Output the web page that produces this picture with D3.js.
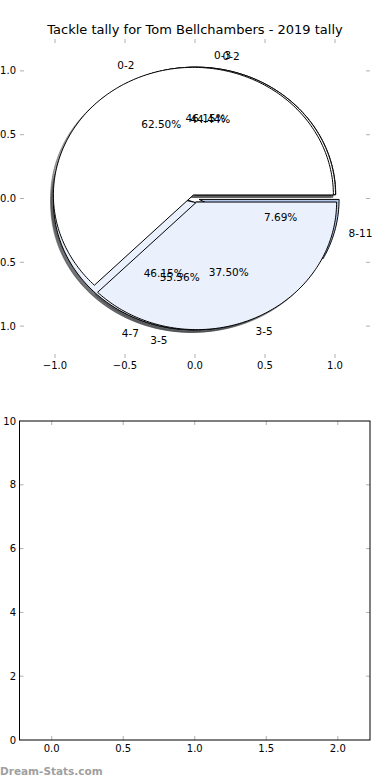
<!DOCTYPE html>
<html>
<head>
<meta charset="utf-8">
<script src="https://cdn.jsdelivr.net/npm/d3@7"></script>
<style>
  body { margin: 0; background: #fff; }
  text { font-family: "DejaVu Sans", sans-serif; fill: #000; }
</style>
</head>
<body>
<div id="chart"></div>
<script>
// chart values
var chartTitle = "Tackle tally for Tom Bellchambers - 2019 tally";
var rangesA = ["0-2", "3-5"];
var tallyA = [5, 3];
var rangesB = ["0-2", "3-5"];
var tallyB = [4, 5];
var rangesC = ["0-3", "4-7", "8-11"];
var tallyC = [6, 6, 1];
var wedgeColors = ["#ffffff", "#eaf0fc", "#b4c8ec"];
var pieTicks = [-1.0, -0.5, 0.0, 0.5, 1.0];
var emptyXTicks = [0, 0.5, 1.0, 1.5, 2.0];
var emptyYTicks = [0, 2, 4, 6, 8, 10];

// pies drawn in this order, the last one ends up on top
var pies = [
  {labels: rangesB, values: tallyB},
  {labels: rangesC, values: tallyC},
  {labels: rangesA, values: tallyA}
];

var explode = 0.03, shadowOff = 0.02;
var W = 390, H = 780;

var svg = d3.select("#chart").append("svg")
    .attr("width", W)
    .attr("height", H);

svg.append("text")
    .attr("x", 195).attr("y", 34)
    .attr("text-anchor", "middle")
    .style("font-size", "13px")
    .text(chartTitle);

// ---- pie axes ----
var xP = d3.scaleLinear().domain([-1.25, 1.25]).range([20, 370]);
var yP = d3.scaleLinear().domain([-1.25, 1.25]).range([358, 39]);

var fmt1 = function(d) { return d3.format(".1f")(d).replace("-", "\u2212"); };

function grayTicks(g, xs, ys, xsc, ysc, x0, x1, y0, y1) {
  xs.forEach(function(t) {
    g.append("line").attr("x1", xsc(t)).attr("x2", xsc(t)).attr("y1", y0).attr("y2", y0 + 4);
    g.append("line").attr("x1", xsc(t)).attr("x2", xsc(t)).attr("y1", y1).attr("y2", y1 - 4);
  });
  ys.forEach(function(t) {
    g.append("line").attr("y1", ysc(t)).attr("y2", ysc(t)).attr("x1", x0).attr("x2", x0 + 4);
    g.append("line").attr("y1", ysc(t)).attr("y2", ysc(t)).attr("x1", x1).attr("x2", x1 - 4);
  });
  g.selectAll("line").attr("stroke", "#b0b0b0").attr("stroke-width", 1);
}

grayTicks(svg.append("g"), pieTicks, pieTicks, xP, yP, 20, 370, 39, 358);

svg.append("g").selectAll("text").data(pieTicks).enter().append("text")
    .attr("x", function(d) { return xP(d); })
    .attr("y", 369)
    .attr("text-anchor", "middle")
    .style("font-size", "10px")
    .text(fmt1);

svg.append("g").selectAll("text").data(pieTicks).enter().append("text")
    .attr("x", 16)
    .attr("y", function(d) { return yP(d); })
    .attr("dy", "0.35em")
    .attr("text-anchor", "end")
    .style("font-size", "10px")
    .text(fmt1);

var shadowLayer = svg.append("g");
var wedgeLayer = svg.append("g");
var textLayer = svg.append("g");

var pieGen = d3.pie().sort(null).value(function(d) { return d; });

function wedgePath(a0, a1, ox, oy) {
  var pts = [[0, 0]];
  var n = Math.max(8, Math.ceil((a1 - a0) / 0.02));
  for (var i = 0; i <= n; i++) {
    var a = a0 + (a1 - a0) * i / n;
    pts.push([Math.cos(a), Math.sin(a)]);
  }
  return d3.line()
      .x(function(p) { return xP(p[0] + ox); })
      .y(function(p) { return yP(p[1] + oy); })(pts) + "Z";
}

function darker(c) {
  var r = d3.rgb(c);
  return "rgb(" + Math.round(r.r * 0.3) + "," + Math.round(r.g * 0.3) + "," + Math.round(r.b * 0.3) + ")";
}

pies.forEach(function(p) {
  var total = d3.sum(p.values);
  pieGen(p.values).forEach(function(s, i) {
    var mid = (s.startAngle + s.endAngle) / 2;
    var ex = explode * Math.cos(mid), ey = explode * Math.sin(mid);
    var col = wedgeColors[i % wedgeColors.length];

    shadowLayer.append("path")
        .attr("d", wedgePath(s.startAngle, s.endAngle, ex - shadowOff, ey - shadowOff))
        .attr("fill", darker(col))
        .attr("stroke", darker(col))
        .attr("fill-opacity", 0.5)
        .attr("stroke-opacity", 0.5);

    wedgeLayer.append("path")
        .attr("d", wedgePath(s.startAngle, s.endAngle, ex, ey))
        .attr("fill", col)
        .attr("stroke", "#000")
        .attr("stroke-width", 1)
        .attr("stroke-linejoin", "round");

    var lx = ex + 1.1 * Math.cos(mid), ly = ey + 1.1 * Math.sin(mid);
    textLayer.append("text")
        .attr("x", xP(lx))
        .attr("y", yP(ly))
        .attr("dy", "0.35em")
        .attr("text-anchor", lx > 0 ? "start" : "end")
        .style("font-size", "10.5px")
        .text(p.labels[i]);

    var px = ex + 0.6 * Math.cos(mid), py = ey + 0.6 * Math.sin(mid);
    textLayer.append("text")
        .attr("x", xP(px))
        .attr("y", yP(py))
        .attr("dy", "0.35em")
        .attr("text-anchor", "middle")
        .style("font-size", "10.5px")
        .text(d3.format(".2f")(100 * s.value / total) + "%");
  });
});

// ---- empty bottom axes ----
var xB = d3.scaleLinear().domain([-0.225, 2.225]).range([19.5, 370]);
var yB = d3.scaleLinear().domain([0, 10]).range([740, 421]);

grayTicks(svg.append("g"), emptyXTicks, emptyYTicks.slice(1, -1), xB, yB, 19.5, 370, 421, 740);

svg.append("rect")
    .attr("x", 19.5).attr("y", 421)
    .attr("width", 370 - 19.5).attr("height", 740 - 421)
    .attr("fill", "none")
    .attr("stroke", "#000")
    .attr("stroke-width", 1);

svg.append("g").selectAll("text").data(emptyXTicks).enter().append("text")
    .attr("x", function(d) { return xB(d); })
    .attr("y", 752)
    .attr("text-anchor", "middle")
    .style("font-size", "10px")
    .text(function(d) { return d3.format(".1f")(d); });

svg.append("g").selectAll("text").data(emptyYTicks).enter().append("text")
    .attr("x", 16)
    .attr("y", function(d) { return yB(d); })
    .attr("dy", "0.35em")
    .attr("text-anchor", "end")
    .style("font-size", "10px")
    .text(function(d) { return d; });

svg.append("text")
    .attr("x", 0).attr("y", 775)
    .style("font-size", "10.5px")
    .style("font-weight", "bold")
    .style("fill", "#a0a0a0")
    .text("Dream-Stats.com");
</script>
</body>
</html>
